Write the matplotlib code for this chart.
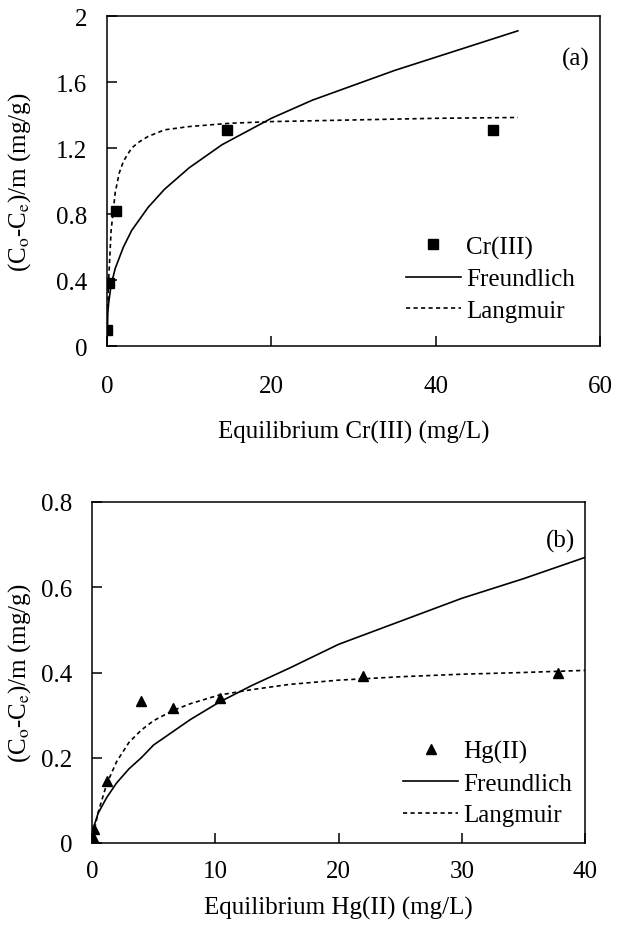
import matplotlib
matplotlib.use("Agg")
import matplotlib.pyplot as plt

plt.rcParams['font.family'] = ['Liberation Serif', 'DejaVu Serif']
plt.rcParams['font.size'] = 18
plt.rcParams['mathtext.fontset'] = 'stix'

# (a) Cr(III) data
cr_ce = [0.05, 0.2, 1.1, 14.6, 47.0]
cr_q = [0.10, 0.38, 0.82, 1.31, 1.31]
cr_freund_c = [0, 0.1, 0.2, 0.5, 1, 2, 3, 5, 7, 10, 14, 20, 25, 30, 35, 40, 45, 50]
cr_freund_q = [0, 0.20, 0.26, 0.37, 0.47, 0.60, 0.70, 0.84, 0.95, 1.08, 1.22,
               1.38, 1.49, 1.58, 1.67, 1.75, 1.83, 1.91]
cr_lang_c = [0.1, 0.2, 0.5, 1, 1.5, 2, 3, 4, 5, 7, 10, 15, 20, 30, 40, 50]
cr_lang_q = [0.23, 0.40, 0.70, 0.93, 1.05, 1.12, 1.20, 1.24, 1.27, 1.31, 1.33,
             1.35, 1.36, 1.37, 1.38, 1.385]

# (b) Hg(II) data
hg_ce = [0.1, 0.2, 1.2, 4.0, 6.6, 10.4, 22.0, 37.8]
hg_q = [0.015, 0.033, 0.145, 0.333, 0.317, 0.340, 0.392, 0.400]
hg_freund_c = [0, 0.1, 0.2, 0.5, 1.2, 2, 3, 4, 5, 6.5, 8, 10.3, 13, 16, 20, 25, 30, 35, 40]
hg_freund_q = [0, 0.030, 0.043, 0.070, 0.107, 0.141, 0.174, 0.200, 0.230, 0.260,
               0.290, 0.330, 0.370, 0.410, 0.466, 0.520, 0.574, 0.620, 0.670]
hg_lang_c = [0.1, 0.2, 0.5, 1.2, 2, 3, 4, 5, 6.5, 8, 10.3, 13, 16, 20, 25, 30, 35, 40]
hg_lang_q = [0.017, 0.032, 0.072, 0.139, 0.191, 0.236, 0.265, 0.287, 0.310, 0.327,
             0.347, 0.360, 0.372, 0.382, 0.390, 0.396, 0.400, 0.405]

dot = (0, (2.5, 2))
ylab = r'(C$_\mathrm{o}$-C$_\mathrm{e}$)/m (mg/g)'

fig = plt.figure(figsize=(6.31, 9.29), dpi=100)
ax1 = fig.add_axes([107 / 631, 1 - 347 / 929, 493 / 631, 330 / 929])
ax2 = fig.add_axes([92 / 631, 1 - 844 / 929, 493 / 631, 341 / 929])

ax1.plot(cr_ce, cr_q, 's', color='black', ms=7, label='Cr(III)', zorder=3)
ax1.plot(cr_freund_c, cr_freund_q, '-', color='black', lw=1.2, label='Freundlich')
ax1.plot(cr_lang_c, cr_lang_q, color='black', lw=1.2, linestyle=dot, label='Langmuir')
ax1.set_xlim(0, 60)
ax1.set_ylim(0, 2)
ax1.set_xticks([0, 20, 40, 60])
ax1.set_yticks([0, 0.4, 0.8, 1.2, 1.6, 2])
ax1.set_yticklabels(['0', '0.4', '0.8', '1.2', '1.6', '2'])
ax1.set_xlabel('Equilibrium Cr(III) (mg/L)')
ax1.set_ylabel(ylab)
ax1.text(0.95, 0.87, '(a)', transform=ax1.transAxes, ha='center', va='center')
ax1.tick_params(axis='x', pad=21)
ax1.xaxis.set_label_coords(0.5, -0.225)
ax1.yaxis.set_label_coords(-0.15, 0.5)
ax1.legend(loc='upper left', bbox_to_anchor=(0.606, 0.335), frameon=False,
           borderpad=0, borderaxespad=0, handlelength=2.2, handletextpad=0.2,
           labelspacing=0.37, fontsize=18)

ax2.plot(hg_ce, hg_q, '^', color='black', ms=7, label='Hg(II)', zorder=3)
ax2.plot(hg_freund_c, hg_freund_q, '-', color='black', lw=1.2, label='Freundlich')
ax2.plot(hg_lang_c, hg_lang_q, color='black', lw=1.2, linestyle=dot, label='Langmuir')
ax2.set_xlim(0, 40)
ax2.set_ylim(0, 0.8)
ax2.set_xticks([0, 10, 20, 30, 40])
ax2.set_yticks([0, 0.2, 0.4, 0.6, 0.8])
ax2.set_yticklabels(['0', '0.2', '0.4', '0.6', '0.8'])
ax2.set_xlabel('Equilibrium Hg(II) (mg/L)')
ax2.set_ylabel(ylab)
ax2.text(0.951, 0.888, '(b)', transform=ax2.transAxes, ha='center', va='center')
ax2.tick_params(axis='x', pad=12)
ax2.xaxis.set_label_coords(0.5, -0.155)
ax2.yaxis.set_label_coords(-0.12, 0.5)
ax2.legend(loc='upper left', bbox_to_anchor=(0.631, 0.303), frameon=False,
           borderpad=0, borderaxespad=0, handlelength=2.2, handletextpad=0.2,
           labelspacing=0.37, fontsize=18)

for ax in (ax1, ax2):
    ax.tick_params(direction='in', length=7, width=1.1, top=False, right=False)
    ax.tick_params(axis='y', pad=14)
    for sp in ax.spines.values():
        sp.set_linewidth(1.1)

fig.savefig('out.png', dpi=100)
